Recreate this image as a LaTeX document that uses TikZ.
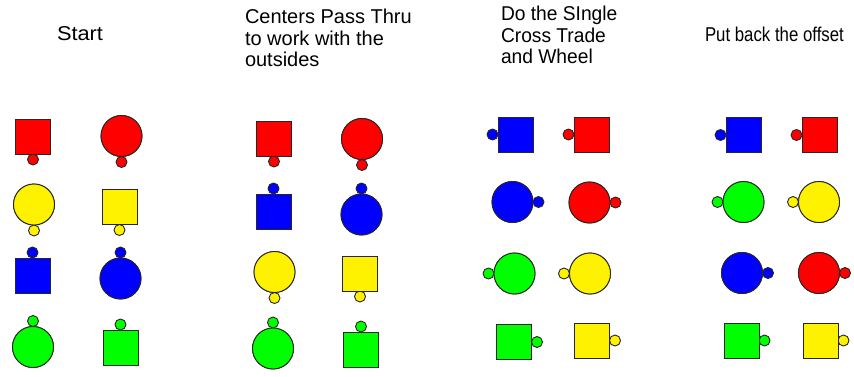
\documentclass[tikz,border=0pt]{standalone}
\usepackage{fontspec}
\setmainfont{Liberation Sans}
\begin{document}
\begin{tikzpicture}[x=1pt,y=-1pt,
  base/.style={draw=black!85, line width=0.9pt, inner sep=0pt, outer sep=0pt},
  sq/.style={base, rectangle, minimum width=35pt, minimum height=35pt},
  circ/.style={base, circle, minimum size=41pt},
  dot/.style={base, circle, minimum size=11pt},
  lbl/.style={inner sep=0pt, outer sep=0pt, align=left, anchor=north west,
    font=\fontsize{20}{21.5}\selectfont}
]
\useasboundingbox[fill=white] (0,0) rectangle (854,376);

% headings
\node[lbl] (t1) at (57,27) {\scalebox{1.09}[1]{Start}};
\node[lbl] (t2) at (245,9.5) {Centers Pass Thru\\to work with the\\outsides};
\node[lbl] (t3) at (501,6.5) {\scalebox{0.96}[1]{Do the SIngle}\\\scalebox{0.96}[1]{Cross Trade}\\\scalebox{0.96}[1]{and Wheel}};
\node[lbl] (t4) at (705,27.5) {\scalebox{0.84}[1]{Put back the offset}};

% helper: \dancer{shape}{color}{name}{x}{y}{side}{opp}
\newcommand{\dancer}[7]{%
  \node[#1, fill=#2] (#3) at (#4,#5) {};
  \node[dot, fill=#2, anchor=#7] (#3d) at (#3.#6) {};
  \node[#1, fill=#2] at (#3) {};
}

% Column 1: Start
\dancer{sq}{red}{a1}{33}{136.5}{south}{north}
\dancer{circ}{red}{a2}{121.5}{136}{south}{north}
\dancer{circ}{yellow}{a3}{34}{204.5}{south}{north}
\dancer{sq}{yellow}{a4}{119.5}{207}{south}{north}
\dancer{sq}{blue}{a5}{32.5}{275.5}{north}{south}
\dancer{circ}{blue}{a6}{120.5}{278.5}{north}{south}
\dancer{circ}{green}{a7}{33}{347}{north}{south}
\dancer{sq}{green}{a8}{120.5}{347.5}{north}{south}

% Column 2
\dancer{sq}{red}{b1}{274}{138.5}{south}{north}
\dancer{circ}{red}{b2}{362}{139}{south}{north}
\dancer{sq}{blue}{b3}{273.5}{211.5}{north}{south}
\dancer{circ}{blue}{b4}{361.5}{214.5}{north}{south}
\dancer{circ}{yellow}{b5}{274.5}{272}{south}{north}
\dancer{sq}{yellow}{b6}{360}{273.5}{south}{north}
\dancer{circ}{green}{b7}{273}{348.5}{north}{south}
\dancer{sq}{green}{b8}{361}{349.5}{north}{south}

% Column 3
\dancer{sq}{blue}{c1}{515.5}{134.5}{west}{east}
\dancer{sq}{red}{c2}{591.5}{134.5}{west}{east}
\dancer{circ}{blue}{c3}{512.5}{202}{east}{west}
\dancer{circ}{red}{c4}{589.5}{202.5}{east}{west}
\dancer{circ}{green}{c5}{514.5}{273.5}{west}{east}
\dancer{circ}{yellow}{c6}{590}{273.5}{west}{east}
\dancer{sq}{green}{c7}{514}{342}{east}{west}
\dancer{sq}{yellow}{c8}{592}{340.5}{east}{west}

% Column 4
\dancer{sq}{blue}{d1}{743.5}{135}{west}{east}
\dancer{sq}{red}{d2}{819.5}{135}{west}{east}
\dancer{circ}{green}{d3}{743.5}{202}{west}{east}
\dancer{circ}{yellow}{d4}{819}{202}{west}{east}
\dancer{circ}{blue}{d5}{742}{273}{east}{west}
\dancer{circ}{red}{d6}{819}{273}{east}{west}
\dancer{sq}{green}{d7}{741.5}{340.5}{east}{west}
\dancer{sq}{yellow}{d8}{820.5}{340.5}{east}{west}
\end{tikzpicture}
\end{document}
